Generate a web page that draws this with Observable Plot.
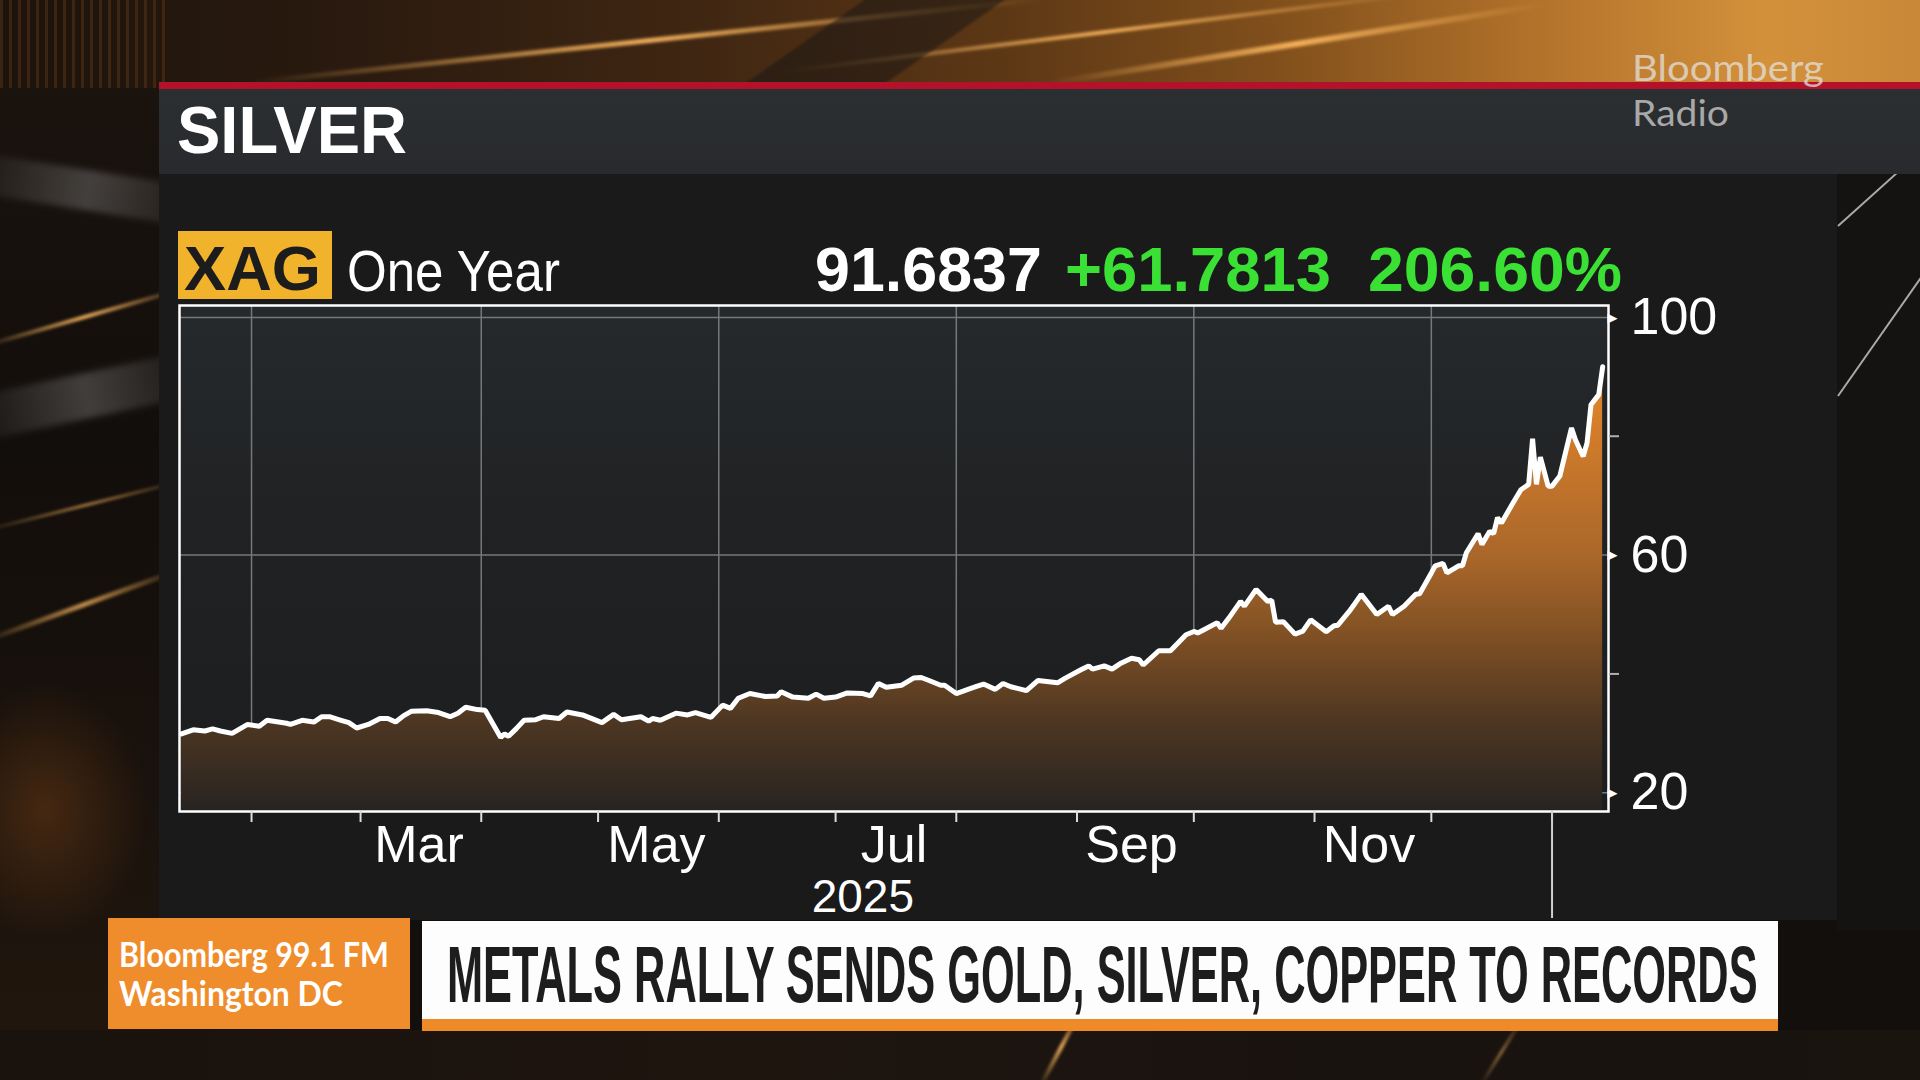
<!DOCTYPE html>
<html><head><meta charset="utf-8">
<script src="https://cdn.jsdelivr.net/npm/d3@7"></script>
<script src="https://cdn.jsdelivr.net/npm/@observablehq/plot@0.6"></script>
<style>
html,body{margin:0;padding:0;width:1920px;height:1080px;overflow:hidden;background:#130f0c;}
#stage{position:relative;width:1920px;height:1080px;overflow:hidden;font-family:"Liberation Sans",Arial,sans-serif;}
.abs{position:absolute;}
.streak{position:absolute;transform-origin:left center;background:linear-gradient(90deg,rgba(255,160,60,0),rgba(255,185,95,0.9) 50%,rgba(255,160,60,0));filter:blur(1.5px);}
.gstreak{position:absolute;transform-origin:left center;background:linear-gradient(90deg,rgba(150,150,150,0),rgba(150,150,150,0.35) 50%,rgba(150,150,150,0));filter:blur(3px);}
.wline{position:absolute;transform-origin:left center;height:2px;background:rgba(220,220,220,0.75);}
#overlay{position:absolute;left:0;top:0;}
</style></head>
<body><div id="stage">
  <!-- background scene -->
  <div class="abs" style="left:0;top:0;width:1920px;height:90px;background:linear-gradient(90deg,#1c130c 0%,#2a1a0f 18%,#3f2612 36%,#5c3715 52%,#7f4e1b 66%,#b2722a 80%,#d3913b 92%,#c98838 100%);"></div>
  <div class="abs" style="left:0;top:0;width:170px;height:90px;background:repeating-linear-gradient(90deg,rgba(150,85,30,0.25) 0 3px,rgba(0,0,0,0) 3px 9px);"></div>
  <div class="streak" style="left:250px;top:80px;width:800px;height:5px;transform:rotate(-6deg);"></div>
  <div class="streak" style="left:780px;top:70px;width:650px;height:4px;transform:rotate(-7deg);"></div>
  <div class="streak" style="left:1050px;top:80px;width:500px;height:6px;transform:rotate(-9deg);"></div>
  <div class="abs" style="left:800px;top:-20px;width:140px;height:130px;transform:skewX(-55deg);background:rgba(25,22,20,0.55);filter:blur(2px);"></div>
  <div class="abs" style="left:0;top:88px;width:160px;height:1000px;background:linear-gradient(180deg,#1a130e 0%,#120e0b 35%,#18110c 65%,#22170e 100%);"></div>
  <div class="gstreak" style="left:-40px;top:150px;width:260px;height:40px;transform:rotate(9deg);"></div>
  <div class="gstreak" style="left:-40px;top:400px;width:260px;height:45px;transform:rotate(-12deg);"></div>
  <div class="streak" style="left:-20px;top:345px;width:220px;height:4px;transform:rotate(-16deg);"></div>
  <div class="streak" style="left:-20px;top:530px;width:220px;height:3px;transform:rotate(-14deg);opacity:0.7;"></div>
  <div class="streak" style="left:-20px;top:640px;width:220px;height:5px;transform:rotate(-20deg);opacity:0.8;"></div>
  <div class="abs" style="left:0;top:680px;width:150px;height:260px;background:radial-gradient(ellipse at 30% 50%,rgba(150,80,25,0.35),rgba(0,0,0,0) 70%);"></div>
  <div class="abs" style="left:1837px;top:170px;width:90px;height:760px;background:#141312;"></div>
  <div class="wline" style="left:1838px;top:225px;width:110px;transform:rotate(-42deg);"></div>
  <div class="wline" style="left:1838px;top:395px;width:150px;transform:rotate(-55deg);"></div>
  <div class="abs" style="left:0;top:1030px;width:1920px;height:50px;background:linear-gradient(90deg,#1a120d,#1e150f 40%,#191310 70%,#1a140f);"></div>
  <div class="streak" style="left:1040px;top:1085px;width:90px;height:4px;transform:rotate(-62deg);"></div>
  <div class="streak" style="left:1480px;top:1085px;width:80px;height:3px;transform:rotate(-58deg);opacity:0.6;"></div>

  <!-- header and panel -->
  <div class="abs" style="left:159px;top:82px;width:1761px;height:7px;background:#b5112b;"></div>
  <div class="abs" style="left:159px;top:89px;width:1761px;height:85px;background:linear-gradient(180deg,#2c2f32,#282a2d);"></div>
  <div class="abs" style="left:159px;top:174px;width:1678px;height:746px;background:#1a1a1b;"></div>
  <div class="abs" style="left:178px;top:231px;width:154px;height:68px;background:#f1b32b;"></div>

  <div id="chart" class="abs" style="left:120px;top:250px;width:1640px;height:700px;"></div>

  <!-- lower third -->
  <div class="abs" style="left:108px;top:918px;width:302px;height:111px;background:#ef8c2b;"></div>
  <div class="abs" style="left:422px;top:921px;width:1356px;height:98px;background:#fdfdfd;"></div>
  <div class="abs" style="left:422px;top:1019px;width:1356px;height:12px;background:#ee8a28;"></div>

  <svg id="overlay" width="1920" height="1080"></svg>
</div>
<script>
// ---- data (XAG spot, one year) ----
const dates = [
"2025-01-14","2025-01-17","2025-01-20","2025-01-22","2025-01-24","2025-01-27","2025-01-31","2025-02-03","2025-02-05","2025-02-10",
"2025-02-11","2025-02-14","2025-02-17","2025-02-19","2025-02-21","2025-02-24","2025-02-26","2025-02-28","2025-03-03","2025-03-06",
"2025-03-08","2025-03-10","2025-03-12","2025-03-14","2025-03-18","2025-03-21","2025-03-24","2025-03-26","2025-03-28","2025-03-31",
"2025-04-02","2025-04-06","2025-04-07","2025-04-08","2025-04-10","2025-04-12","2025-04-15","2025-04-17","2025-04-21","2025-04-23",
"2025-04-27","2025-05-02","2025-05-05","2025-05-07","2025-05-12","2025-05-14","2025-05-15","2025-05-17","2025-05-21","2025-05-24",
"2025-05-26","2025-05-30","2025-06-02","2025-06-04","2025-06-06","2025-06-09","2025-06-13","2025-06-16","2025-06-17","2025-06-20",
"2025-06-24","2025-06-26","2025-06-28","2025-07-01","2025-07-04","2025-07-08","2025-07-10","2025-07-12","2025-07-14","2025-07-18",
"2025-07-21","2025-07-23","2025-07-25","2025-07-28","2025-07-29","2025-08-01","2025-08-04","2025-08-06","2025-08-08","2025-08-11",
"2025-08-13","2025-08-15","2025-08-19","2025-08-22","2025-08-27","2025-08-29","2025-09-02","2025-09-04","2025-09-05","2025-09-08",
"2025-09-10","2025-09-12","2025-09-15","2025-09-17","2025-09-18","2025-09-22","2025-09-25","2025-09-29","2025-10-01","2025-10-02",
"2025-10-07","2025-10-08","2025-10-10","2025-10-13","2025-10-14","2025-10-17","2025-10-20","2025-10-21","2025-10-22","2025-10-24",
"2025-10-27","2025-10-29","2025-10-31","2025-11-04","2025-11-06","2025-11-07","2025-11-10","2025-11-11","2025-11-13","2025-11-17",
"2025-11-20","2025-11-21","2025-11-24","2025-11-27","2025-11-28","2025-12-01","2025-12-02","2025-12-04","2025-12-05","2025-12-08",
"2025-12-09","2025-12-10","2025-12-13","2025-12-14","2025-12-16","2025-12-17","2025-12-18","2025-12-19","2025-12-22","2025-12-24",
"2025-12-26","2025-12-27","2025-12-28","2025-12-29","2025-12-31","2026-01-01","2026-01-03","2026-01-06","2026-01-07","2026-01-09",
"2026-01-10","2026-01-11","2026-01-13","2026-01-14"
];
const prices = [
29.90,30.6,30.4,30.75,30.4,30.0,31.5,31.2,32.2,31.7,
31.5,32.2,31.9,32.8,32.8,32.2,31.8,30.9,31.5,32.5,
32.5,31.9,32.95,33.7,33.8,33.5,32.8,33.4,34.4,34.0,
33.9,29.3,29.9,29.5,30.8,32.2,32.3,32.8,32.5,33.6,
33.1,31.8,33.2,32.3,32.8,32.05,32.5,32.2,33.4,33.1,
33.5,32.7,34.75,34.2,35.9,36.7,36.2,36.3,37.0,36.1,
35.9,36.6,35.9,36.1,36.8,36.7,36.3,38.4,37.75,38.1,
39.3,39.4,38.9,38.1,38.1,36.7,37.4,37.85,38.3,37.4,
38.4,37.85,37.2,38.9,38.5,39.3,40.7,41.35,40.8,41.35,
40.8,41.7,42.65,42.4,41.5,43.9,43.9,46.6,47.15,46.9,
48.6,47.7,49.4,52.2,51.4,54.2,52.2,52.4,48.7,48.8,
46.7,47.2,49.1,47.1,48.1,48.2,50.6,51.5,53.4,50.0,
51.4,50.0,51.4,53.4,53.5,57.0,58.2,58.6,57.0,58.2,
58.2,60.4,63.6,61.8,64.0,63.6,66.3,65.4,68.8,71.0,
71.9,79.6,71.9,76.5,71.6,71.6,73.3,81.4,79.4,76.6,
78.9,85.3,87.0,91.6837
];
const ticker = "XAG";
const periodLabel = "One Year";
const lastPrice = 91.6837;
const netChange = 61.7813;
const pctChange = 206.60;
const yTicksMajor = [20, 60, 100];
const yTicksMinor = [40, 80];
const monthLabels = ["Mar", "May", "Jul", "Sep", "Nov"];
const monthLabelDates = ["2025-03-16", "2025-05-16", "2025-07-16", "2025-09-15", "2025-11-15"];
const yearLabel = ["2025"];
const yearLabelDate = ["2025-07-08"];
const yearBoundary = ["2026-01-01"];
const xDomainDates = ["2025-01-13T12:00Z", "2026-01-15T12:00Z"];
const yDomain = [16.85, 102];

const data = dates.map((d, i) => ({date: new Date(d), price: prices[i]}));
const xDomain = xDomainDates.map(d => new Date(d));
const monthStarts = d3.utcMonth.range(new Date("2025-02-01"), new Date("2026-01-02"));
const gridDates = monthStarts.filter(d => d.getUTCMonth() % 2 === 1);
const labelDates = monthLabelDates.map(d => new Date(d));

const defsMark = () => {
  const g = d3.create("svg:g");
  const defs = g.append("defs");
  const a = defs.append("linearGradient").attr("id", "areaGrad")
    .attr("gradientUnits", "userSpaceOnUse").attr("x1", 0).attr("x2", 0).attr("y1", 55).attr("y2", 561);
  [[0, "#f39431"], [0.13, "#e5872b"], [0.5, "#a9662a"], [0.64, "#835224"], [0.82, "#4e3722"], [1, "#272321"]]
    .forEach(([o, c]) => a.append("stop").attr("offset", o).attr("stop-color", c));
  const b = defs.append("linearGradient").attr("id", "plotBg").attr("x1", 0).attr("x2", 0).attr("y1", 0).attr("y2", 1);
  [[0, "#26292b"], [0.5, "#1f2123"], [1, "#1c1d1f"]]
    .forEach(([o, c]) => b.append("stop").attr("offset", o).attr("stop-color", c));
  return g.node();
};

const chart = Plot.plot({
  width: 1640, height: 700,
  marginLeft: 59, marginRight: 152, marginTop: 55, marginBottom: 139,
  x: {type: "utc", domain: xDomain, label: null},
  y: {domain: yDomain, label: null},
  style: {background: "transparent", color: "white", fontFamily: "'Liberation Sans', Arial, sans-serif", overflow: "visible"},
  marks: [
    defsMark,
    Plot.frame({fill: "url(#plotBg)", stroke: "none"}),
    Plot.gridX(gridDates, {stroke: "#76787a", strokeOpacity: 1, strokeWidth: 1.5}),
    Plot.gridY(yTicksMajor, {stroke: "#76787a", strokeOpacity: 1, strokeWidth: 1.5}),
    Plot.areaY(data, {x: "date", y1: yDomain[0], y2: "price", fill: "url(#areaGrad)"}),
    Plot.lineY(data, {x: "date", y: "price", stroke: "white", strokeWidth: 5, strokeLinejoin: "miter"}),
    Plot.frame({stroke: "white", strokeWidth: 2.5}),
    Plot.axisX(monthStarts, {tickSize: 11, tickFormat: () => "", label: null, stroke: "#dcdcdc", strokeWidth: 2}),
    Plot.axisX(yearBoundary.map(d => new Date(d)), {tickSize: 107, tickFormat: () => "", label: null, stroke: "#cfcfcf", strokeWidth: 2}),
    Plot.text(labelDates, {x: d => d, text: (d, i) => monthLabels[i], frameAnchor: "bottom", dy: 50, fontSize: 52, fill: "white"}),
    Plot.text(yearLabelDate.map(d => new Date(d)), {x: d => d, text: (d, i) => yearLabel[i], frameAnchor: "bottom", dy: 100, fontSize: 46, fill: "white"}),
    Plot.axisY(yTicksMinor, {anchor: "right", tickSize: 10, tickFormat: () => "", label: null, stroke: "#b0b0b0", strokeWidth: 2}),
    Plot.axisY(yTicksMajor, {anchor: "right", tickSize: 0, tickPadding: 22, label: null, fontSize: 52, fill: "white"}),
    Plot.text(yTicksMajor, {y: d => d, frameAnchor: "right", text: () => "\u25B6", textAnchor: "start", dx: -1, fontSize: 13, fill: "white", fontFamily: "DejaVu Sans"})
  ]
});
document.getElementById("chart").appendChild(chart);

// ---- overlay texts (scaled horizontally to the measured widths) ----
const ov = d3.select("#overlay");
function txt(s, o) {
  const t = ov.append("text").text(s)
    .attr("x", 0).attr("y", 0)
    .attr("font-size", o.size).attr("font-weight", o.weight || 400)
    .attr("font-family", o.family || "'Liberation Sans', Arial, sans-serif")
    .attr("fill", o.fill || "white");
  let k = 1;
  if (o.len) {
    const w = t.node().getComputedTextLength();
    if (w > 0) k = o.len / w;
  }
  t.attr("transform", `translate(${o.x},${o.y}) scale(${k},1)`);
  return t;
}
txt("SILVER", {x: 177, y: 153, size: 66, weight: 700, len: 230});
txt("Bloomberg", {x: 1632, y: 81, size: 36, family: "Lato, 'Open Sans', sans-serif", fill: "rgba(228,228,228,0.72)", len: 192});
txt("Radio", {x: 1632, y: 126, size: 36, family: "Lato, 'Open Sans', sans-serif", fill: "rgba(210,210,210,0.75)", len: 97});
txt(ticker, {x: 184, y: 290, size: 63, weight: 700, fill: "#1c1c1c", len: 137});
txt(periodLabel, {x: 347, y: 291, size: 58, len: 213});
txt(lastPrice.toFixed(4), {x: 815, y: 291, size: 63, weight: 700, len: 227});
txt("+" + netChange.toFixed(4), {x: 1065, y: 291, size: 63, weight: 700, fill: "#3ae033", len: 266});
txt(pctChange.toFixed(2) + "%", {x: 1368, y: 291, size: 63, weight: 700, fill: "#3ae033", len: 254});
txt("Bloomberg 99.1 FM", {x: 119, y: 967, size: 34, weight: 700, family: "Lato, 'Open Sans', sans-serif", len: 270});
txt("Washington DC", {x: 119, y: 1006, size: 34, weight: 700, family: "Lato, 'Open Sans', sans-serif", len: 224});
txt("METALS RALLY SENDS GOLD, SILVER, COPPER TO RECORDS", {x: 447, y: 1002, size: 80, weight: 700, family: "'Liberation Sans Narrow', 'Liberation Sans', Arial, sans-serif", fill: "#1d1d1d", len: 1311});
</script>
</body></html>
